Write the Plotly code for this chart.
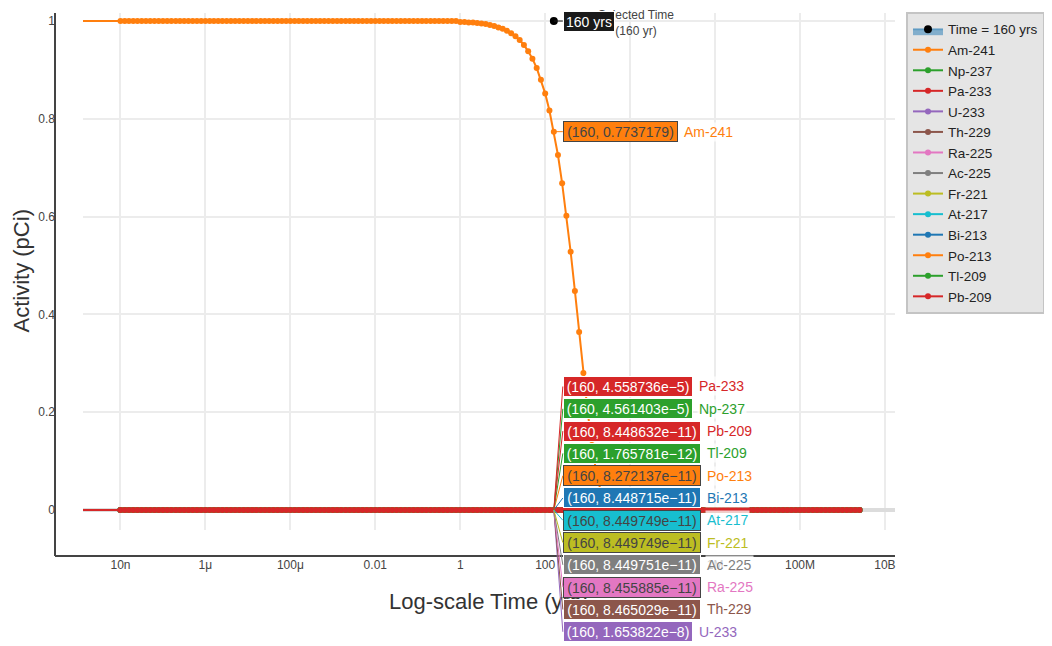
import math

import plotly.graph_objects as go


# sampling times (years); the leading 0 runs the line off the left edge of the log axis
time_yr = [
    0.0,
    1.00e-8, 1.26e-8, 1.58e-8, 2.00e-8, 2.51e-8, 3.16e-8, 3.98e-8, 5.01e-8, 6.31e-8, 7.94e-8,
    1.00e-7, 1.26e-7, 1.58e-7, 2.00e-7, 2.51e-7, 3.16e-7, 3.98e-7, 5.01e-7, 6.31e-7, 7.94e-7,
    1.00e-6, 1.26e-6, 1.58e-6, 2.00e-6, 2.51e-6, 3.16e-6, 3.98e-6, 5.01e-6, 6.31e-6, 7.94e-6,
    1.00e-5, 1.26e-5, 1.58e-5, 2.00e-5, 2.51e-5, 3.16e-5, 3.98e-5, 5.01e-5, 6.31e-5, 7.94e-5,
    1.00e-4, 1.26e-4, 1.58e-4, 2.00e-4, 2.51e-4, 3.16e-4, 3.98e-4, 5.01e-4, 6.31e-4, 7.94e-4,
    1.00e-3, 1.26e-3, 1.58e-3, 2.00e-3, 2.51e-3, 3.16e-3, 3.98e-3, 5.01e-3, 6.31e-3, 7.94e-3,
    1.00e-2, 1.26e-2, 1.58e-2, 2.00e-2, 2.51e-2, 3.16e-2, 3.98e-2, 5.01e-2, 6.31e-2, 7.94e-2,
    1.00e-1, 1.26e-1, 1.58e-1, 2.00e-1, 2.51e-1, 3.16e-1, 3.98e-1, 5.01e-1, 6.31e-1, 7.94e-1,
    1.00e0, 1.26e0, 1.58e0, 2.00e0, 2.51e0, 3.16e0, 3.98e0, 5.01e0, 6.31e0, 7.94e0,
    1.00e1, 1.26e1, 1.58e1, 2.00e1, 2.51e1, 3.16e1, 3.98e1, 5.01e1, 6.31e1, 7.94e1,
    1.00e2, 1.26e2, 1.60e2, 2.00e2, 2.51e2, 3.16e2, 3.98e2, 5.01e2, 6.31e2, 7.94e2,
    1.00e3, 1.26e3, 1.58e3, 2.00e3, 2.51e3, 3.16e3, 3.98e3, 5.01e3, 6.31e3, 7.94e3,
    1.00e4, 1.26e4, 1.58e4, 2.00e4, 2.51e4, 3.16e4, 3.98e4, 5.01e4, 6.31e4, 7.94e4,
    1.00e5, 1.26e5, 1.58e5, 2.00e5, 2.51e5, 3.16e5, 3.98e5, 5.01e5, 6.31e5, 7.94e5,
    1.00e6, 1.26e6, 1.58e6, 2.00e6, 2.51e6, 3.16e6, 3.98e6, 5.01e6, 6.31e6, 7.94e6,
    1.00e7, 1.26e7, 1.58e7, 2.00e7, 2.51e7, 3.16e7, 3.98e7, 5.01e7, 6.31e7, 7.94e7,
    1.00e8, 1.26e8, 1.58e8, 2.00e8, 2.51e8, 3.16e8, 3.98e8, 5.01e8, 6.31e8, 7.94e8,
    1.00e9, 1.26e9, 1.58e9, 2.00e9, 2.51e9,
]

# Am-241 activity (pCi): flat at 1 up to ~1 yr, decays through the knee, 0 afterwards
am241_pci = (
    [1.0] * 81
    + [0.998, 0.998, 0.997, 0.997, 0.996, 0.995, 0.994, 0.992, 0.990, 0.987,
       0.984, 0.980, 0.975, 0.969, 0.961, 0.951, 0.938, 0.923, 0.904, 0.880,
       0.852, 0.817, 0.7737179, 0.726, 0.668, 0.602, 0.528, 0.448, 0.364, 0.280,
       0.201, 0.133, 0.079, 0.041, 0.018, 0.006, 0.002, 0.0003]
    + [0.0] * 57
)

nuclides = ["Am-241", "Np-237", "Pa-233", "U-233", "Th-229", "Ra-225", "Ac-225",
            "Fr-221", "At-217", "Bi-213", "Po-213", "Tl-209", "Pb-209"]
nuclide_colors = ["#ff7f0e", "#2ca02c", "#d62728", "#9467bd", "#8c564b", "#e377c2", "#7f7f7f",
                  "#bcbd22", "#17becf", "#1f77b4", "#ff7f0e", "#2ca02c", "#d62728"]
# activity at the selected time (shown in the hover boxes)
activity_at_160 = [0.7737179, 4.561403e-5, 4.558736e-5, 1.653822e-8, 8.465029e-11, 8.455885e-11,
                   8.449751e-11, 8.449749e-11, 8.449749e-11, 8.448715e-11, 8.272137e-11,
                   1.765781e-12, 8.448632e-11]

selected_time = 160.0
# hover boxes below the curve, top to bottom
stack_order = ["Pa-233", "Np-237", "Pb-209", "Tl-209", "Po-213", "Bi-213",
               "At-217", "Fr-221", "Ac-225", "Ra-225", "Th-229", "U-233"]

FONT = "Liberation Sans, Arial, sans-serif"
_DARK_TEXT = {"#ff7f0e", "#17becf", "#bcbd22", "#e377c2"}


def fmt_value(v):
    if v >= 1e-3:
        return f"{v:.7g}"
    mant, exp = f"{v:.6e}".split("e")
    return f"{mant}e\u2212{abs(int(exp))}"


def box_width(text):
    return round(7.6 * len(text) - 8.8)


x_sel = math.log10(selected_time)
idx_sel = time_yr.index(selected_time)

fig = go.Figure()
fig.add_trace(
    go.Scatter(
        x=[selected_time], y=[1.0], name="Time = 160 yrs",
        mode="lines+markers", fill="tozeroy",
        fillcolor="rgba(31,119,180,0.5)",
        line=dict(color="rgba(31,119,180,0.45)", width=2),
        marker=dict(color="black", size=8),
    )
)

for name, color, val in zip(nuclides, nuclide_colors, activity_at_160):
    if name == "Am-241":
        y = am241_pci
    else:
        y = [0.0] * len(time_yr)
        y[idx_sel] = val
    fig.add_trace(
        go.Scatter(
            x=time_yr, y=y, name=name, mode="lines+markers",
            line=dict(color=color, width=2),
            marker=dict(color=color, size=6),
        )
    )

annotations = [
    dict(x=x_sel, y=1.0, text="Selected Time<br>(160 yr)", showarrow=False,
         xshift=82, yshift=-2, xanchor="center", yanchor="middle",
         font=dict(family=FONT, size=12, color="#444")),
    # axis titles
    dict(xref="x domain", yref="paper", x=0.5, y=0, yshift=-45, text="Log-scale Time (yrs)",
         showarrow=False, xanchor="center", yanchor="middle",
         font=dict(family=FONT, size=22, color="#333")),
    dict(xref="paper", yref="y domain", x=0, y=0.5, xshift=-34, text="Activity (pCi)",
         textangle=-90, showarrow=False, xanchor="center", yanchor="middle",
         font=dict(family=FONT, size=22, color="#333")),
]


def hover_label(y, text, bg, fg, line_color, ay, width):
    return dict(
        x=x_sel, y=y, text=text, showarrow=True, ax=9, ay=ay,
        xanchor="left", yanchor="middle", arrowhead=0, arrowwidth=1,
        arrowcolor=line_color, standoff=0, bgcolor=bg, bordercolor=fg,
        borderwidth=1, borderpad=0, width=width, height=19,
        font=dict(family=FONT, size=14, color=fg),
    )


def name_label(y, text, color, ay, width):
    return dict(
        x=x_sel, y=y, text=text, showarrow=False, xanchor="left", yanchor="middle",
        xshift=9 + width + 6, yshift=-ay, bgcolor="rgba(255,255,255,0.75)", borderpad=1,
        font=dict(family=FONT, size=14, color=color),
    )


annotations.append(hover_label(1.0, "160 yrs", "#1a1a1a", "#ffffff", "#1a1a1a", 0, 50))

for i, (name, color, val) in enumerate(zip(nuclides, nuclide_colors, activity_at_160)):
    text = f"({selected_time:g}, {fmt_value(val)})"
    fg = "#444" if color in _DARK_TEXT else "#ffffff"
    w = box_width(text)
    if name == "Am-241":
        y, ay = am241_pci[idx_sel], 0
    else:
        y, ay = 0.0, -123.5 + 22.3 * stack_order.index(name)
    annotations.append(hover_label(y, text, color, fg, color, ay, w))
    annotations.append(name_label(y, name, color, ay, w))

# the page body adds an 8px offset, so the figure is 8px smaller with margins shifted to match
fig.update_layout(
    width=1044,
    height=638,
    margin=dict(l=47, r=157, t=5, b=90, autoexpand=False),
    paper_bgcolor="white",
    plot_bgcolor="white",
    font=dict(family=FONT, color="#444"),
    xaxis=dict(
        type="log", range=[-8.883, 10.237], domain=[0.0333, 1], anchor="free", position=0,
        dtick=2, showgrid=True, gridcolor="#ececec", gridwidth=2, zeroline=False,
        showline=False, ticks="", tickfont=dict(size=12, color="#444"), automargin=False,
    ),
    yaxis=dict(
        range=[-0.0409, 1.0164], domain=[0.0479, 1], anchor="free", position=0,
        dtick=0.2, showgrid=True, gridcolor="#ececec", gridwidth=2,
        zeroline=True, zerolinecolor="#dcdcdc", zerolinewidth=4,
        showline=False, ticks="", tickfont=dict(size=12, color="#444"), automargin=False,
    ),
    legend=dict(
        x=1.0131, y=1.002, xanchor="left", yanchor="top",
        bgcolor="#e5e5e5", bordercolor="#c4c4c4", borderwidth=2,
        font=dict(size=13.5, color="#222"),
    ),
    shapes=[
        dict(type="line", xref="paper", yref="paper", x0=0, x1=0, y0=0, y1=1,
             line=dict(color="#444", width=2)),
        dict(type="line", xref="paper", yref="paper", x0=0, x1=1, y0=0, y1=0,
             line=dict(color="#444", width=2)),
    ],
    annotations=annotations,
    showlegend=True,
)

fig.write_html("out.html")
